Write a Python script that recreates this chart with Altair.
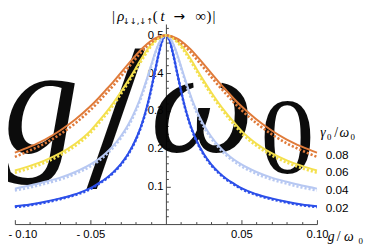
import altair as alt
import pandas as pd

# ---- data (positive half; curves are symmetric in g) ----
G = [0, 0.0025, 0.005, 0.0075, 0.01, 0.0125, 0.015, 0.0175, 0.02, 0.025,
     0.03, 0.035, 0.04, 0.045, 0.05, 0.06, 0.07, 0.08, 0.09, 0.1]
gammas = ["0.02", "0.04", "0.06", "0.08"]
colors = ["#2c4fe9", "#b7c8f2", "#f4e04e", "#e07b3a"]

solid_002 = [0.500, 0.485, 0.447, 0.400, 0.354, 0.312, 0.277, 0.248, 0.224, 0.186,
             0.158, 0.137, 0.120, 0.107, 0.095, 0.079, 0.068, 0.059, 0.052, 0.047]
dot_002 = [0.500, 0.484, 0.446, 0.399, 0.352, 0.310, 0.275, 0.246, 0.222, 0.184,
           0.156, 0.135, 0.118, 0.105, 0.093, 0.077, 0.066, 0.057, 0.050, 0.045]
solid_004 = [0.500, 0.494, 0.476, 0.450, 0.418, 0.386, 0.356, 0.328, 0.304, 0.263,
             0.232, 0.207, 0.187, 0.171, 0.158, 0.138, 0.123, 0.112, 0.102, 0.094]
dot_004 = [0.500, 0.493, 0.474, 0.447, 0.414, 0.382, 0.351, 0.323, 0.299, 0.258,
           0.227, 0.202, 0.182, 0.166, 0.153, 0.133, 0.118, 0.107, 0.097, 0.089]
solid_006 = [0.500, 0.498, 0.493, 0.485, 0.474, 0.461, 0.446, 0.430, 0.413, 0.380,
             0.349, 0.320, 0.294, 0.270, 0.247, 0.213, 0.188, 0.169, 0.154, 0.142]
dot_006 = [0.500, 0.497, 0.491, 0.482, 0.470, 0.456, 0.440, 0.424, 0.407, 0.374,
           0.343, 0.314, 0.288, 0.264, 0.241, 0.207, 0.182, 0.163, 0.148, 0.136]
solid_008 = [0.500, 0.499, 0.496, 0.491, 0.485, 0.477, 0.468, 0.458, 0.447, 0.424,
             0.400, 0.376, 0.354, 0.332, 0.312, 0.277, 0.248, 0.224, 0.205, 0.189]
dot_008 = [0.500, 0.498, 0.494, 0.488, 0.480, 0.471, 0.461, 0.450, 0.438, 0.414,
           0.390, 0.366, 0.344, 0.322, 0.302, 0.267, 0.238, 0.214, 0.195, 0.178]

x_major = [-0.1, -0.05, 0.05, 0.1]
x_minor = [-0.1, -0.09, -0.08, -0.07, -0.06, -0.05, -0.04, -0.03, -0.02, -0.01,
           0.01, 0.02, 0.03, 0.04, 0.05, 0.06, 0.07, 0.08, 0.09, 0.1]
y_major = [0.1, 0.2, 0.3, 0.4, 0.5]
y_minor = [0.02, 0.04, 0.06, 0.08, 0.1, 0.12, 0.14, 0.16, 0.18, 0.2, 0.22, 0.24,
           0.26, 0.28, 0.3, 0.32, 0.34, 0.36, 0.38, 0.4, 0.42, 0.44, 0.46, 0.48,
           0.5, 0.52]

series = {
    ("0.02", "solid"): solid_002, ("0.02", "dotted"): dot_002,
    ("0.04", "solid"): solid_004, ("0.04", "dotted"): dot_004,
    ("0.06", "solid"): solid_006, ("0.06", "dotted"): dot_006,
    ("0.08", "solid"): solid_008, ("0.08", "dotted"): dot_008,
}
rows = []
for (gam, kind), vals in series.items():
    for g, v in zip(G, vals):
        rows.append({"gamma": gam, "kind": kind, "g": g, "v": v})
        if g != 0:
            rows.append({"gamma": gam, "kind": kind, "g": -g, "v": v})
df = pd.DataFrame(rows)

W, H = 308, 204
PL, PT = 7, 14          # padding left/top -> plot origin at page (15, 22)
OX, OY = 8 + PL, 8 + PT

xscale = alt.Scale(domain=[-0.1, 0.1], nice=False, zero=False)
yscale = alt.Scale(domain=[0, 0.53], nice=False)
color = alt.Color("gamma:N", scale=alt.Scale(domain=gammas, range=colors), legend=None)

x_lab_axis = alt.Axis(values=x_major, ticks=False, grid=False, title=None,
                      labelExpr="datum.value < 0 ? '- ' + format(-datum.value, '.2f') : format(datum.value, '.2f')",
                      labelAlign={"condition": {"test": "datum.value < -0.09", "value": "left"},
                                  "value": "center"},
                      labelOffset={"condition": {"test": "datum.value < -0.09", "value": -7},
                                   "value": 0},
                      labelFlush=False, labelOverlap=False, labelFont="Liberation Sans",
                      labelFontSize=11.5, labelColor="black", labelPadding=5,
                      domainColor="#444", domainWidth=1)
y_lab_axis = alt.Axis(orient="left", offset=-W / 2, values=y_major, ticks=False, grid=False,
                      title=None, labelExpr="format(datum.value, '.1f')", labelOverlap=False,
                      labelFont="Liberation Sans", labelFontSize=11.5, labelColor="black",
                      labelPadding=3, domainColor="#444", domainWidth=1)
x_tick_axis = alt.Axis(orient="top", offset=-H, values=x_minor, labels=False, domain=False,
                       grid=False, title=None, tickColor="#444",
                       tickSize={"condition": {"test": "abs(round(datum.value*100)) % 5 == 0", "value": 4.5},
                                 "value": 2.5})
y_tick_axis = alt.Axis(orient="right", offset=-W / 2, values=y_minor, labels=False, domain=False,
                       grid=False, title=None, tickColor="#444",
                       tickSize={"condition": {"test": "abs(round(datum.value*100)) % 10 == 0", "value": 4.5},
                                 "value": 2.5})

base = alt.Chart(df)

solid = base.transform_filter(alt.datum.kind == "solid").mark_line(
    strokeWidth=2, interpolate="monotone").encode(
    x=alt.X("g:Q", scale=xscale, axis=x_lab_axis),
    y=alt.Y("v:Q", scale=yscale, axis=y_lab_axis),
    color=color)

dotted = base.transform_filter(alt.datum.kind == "dotted").mark_line(
    strokeWidth=2.6, strokeDash=[2.2, 2], interpolate="monotone").encode(
    x=alt.X("g:Q", scale=xscale, axis=None),
    y=alt.Y("v:Q", scale=yscale, axis=None),
    color=color)

ticks = base.mark_point(opacity=0).encode(
    x=alt.X("g:Q", scale=xscale, axis=x_tick_axis),
    y=alt.Y("v:Q", scale=yscale, axis=y_tick_axis))

end_labels = base.transform_filter(
    (alt.datum.kind == "solid") & (alt.datum.g == 0.1)).mark_text(
    align="left", dx=9, dy=2, font="Liberation Sans", fontSize=12, color="black").encode(
    x=alt.X("g:Q", scale=xscale, axis=None),
    y=alt.Y("v:Q", scale=yscale, axis=None),
    text="gamma:N")

one = pd.DataFrame({"k": [0]})


def txt(s, px, py, size, italic=False, font="Liberation Serif", align="center", opacity=1.0):
    return alt.Chart(one).mark_text(
        text=s, font=font, fontSize=size, fontStyle="italic" if italic else "normal",
        align=align, baseline="alphabetic", color="black", opacity=opacity).encode(
        x=alt.value(px - OX), y=alt.value(py - OY))


# huge overlay text behind the curves
big = [
    txt("g", 42, 152, 155, italic=True, opacity=0.95),
    txt("/", 118, 188, 215, italic=False, opacity=0.95),
    txt("ω", 206, 152, 150, italic=True, opacity=0.95),
    txt("0", 293, 174, 110, italic=False, opacity=0.95),
]

# y title |ρ_{↓↓,↓↑}(t → ∞)|
ytitle = [
    txt("|", 115.5, 19, 15),
    txt("ρ", 123, 19, 15, italic=True),
    txt("↓↓,↓↑", 140.5, 22, 8.5, font="DejaVu Sans"),
    txt("(", 158, 19, 15),
    txt("t", 165.5, 19, 15, italic=True),
    txt("→", 182.5, 19, 14, font="DejaVu Sans"),
    txt("∞", 204.5, 19, 15),
    txt(")", 213, 19, 15),
    txt("|", 218, 19, 15),
]

# x title g/ω0
xtitle = [
    txt("g", 337.5, 243, 14, italic=True),
    txt("/", 345, 243, 14),
    txt("ω", 355.5, 243, 14, italic=True),
    txt("0", 367.5, 246, 9),
]

# legend title γ0/ω0
ltitle = [
    txt("γ", 329, 137, 14, italic=True),
    txt("0", 335.5, 140, 9),
    txt("/", 342.5, 137, 14),
    txt("ω", 351, 137, 14, italic=True),
    txt("0", 359.5, 140, 9),
]

chart = alt.layer(
    *big, solid, dotted, ticks, end_labels, *ytitle, *xtitle, *ltitle
).resolve_axis(x="independent", y="independent").properties(
    width=W, height=H,
    autosize=alt.AutoSizeParams(type="none"),
    padding={"left": PL, "top": PT, "right": 50, "bottom": 18},
    background="white",
).configure_view(stroke=None)

chart.save("out.html", embed_options={"renderer": "svg", "actions": False})
